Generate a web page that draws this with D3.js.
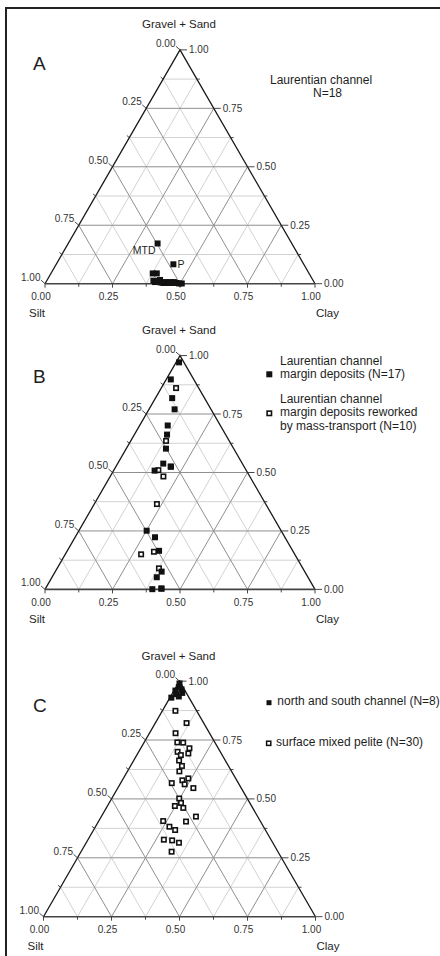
<!DOCTYPE html>
<html>
<head>
<meta charset="utf-8">
<script src="https://cdn.jsdelivr.net/npm/d3@7"></script>
<style>
  body { margin: 0; background: #fff; }
  svg text { font-family: "Liberation Sans", Arial, sans-serif; fill: #1e1e1e; }
</style>
</head>
<body>
<div id="chart"></div>
<script>
// axis ticks (fractions) along each side of the triangle
const tickValues = [0, 0.25, 0.5, 0.75, 1];
const minorTicks = [0.125, 0.375, 0.625, 0.875];
const gridValues = [0.125, 0.25, 0.375, 0.5, 0.625, 0.75, 0.875];

// A - Laurentian channel, N=18 (percent)
const aGravelSand = [17.2, 8.3, 4.4, 4.4, 1.3, 1.2, 1.6, 0.3, 0.7, 0.3, 0.3, 0.7, 0.3, 0.1, 0.1, 0.7, 0.5, 0.7];
const aSilt       = [49.7, 48.3, 57.9, 56.4, 59.2, 57.7, 56.6, 56.0, 55.0, 54.2, 52.8, 51.9, 51.1, 50.3, 49.3, 58.9, 56.8, 53.4];
const aClay       = [33.1, 43.4, 37.7, 39.2, 39.5, 41.1, 41.8, 43.7, 44.3, 45.5, 46.9, 47.4, 48.6, 49.6, 50.6, 40.4, 42.7, 45.9];
const aLabels     = ['MTD', 'P'];

// B - margin deposits, N=17
const bMarginGS   = [97.1, 89.8, 81.8, 77.0, 70.1, 66.2, 60.2, 53.8, 52.5, 50.8, 25.1, 22.3, 16.5, 7.6, 5.2, 0.1, 0.3];
const bMarginSilt = [1.8, 8.5, 12.0, 13.5, 19.5, 21.7, 25.1, 29.3, 27.1, 34.0, 49.8, 48.1, 49.5, 53.0, 56.0, 60.2, 56.7];
const bMarginClay = [1.1, 1.7, 6.2, 9.5, 10.4, 12.1, 14.7, 16.9, 20.4, 15.2, 25.1, 29.6, 34.0, 39.4, 38.8, 39.7, 43.0];

// B - margin deposits reworked by mass-transport, N=10
const bReworkGS   = [86.1, 63.5, 51.0, 48.3, 36.5, 15.0, 16.1, 9.0, 0.4, 52.5];
const bReworkSilt = [8.4, 23.4, 32.5, 32.0, 40.3, 56.9, 51.6, 53.3, 56.7, 27.2];
const bReworkClay = [5.5, 13.1, 16.5, 19.7, 23.2, 28.1, 32.3, 37.7, 42.9, 20.3];

// C - north and south channel, N=8
const cChannelGS   = [99.0, 97.5, 96.5, 96.0, 95.0, 94.5, 93.5, 93.0];
const cChannelSilt = [0.5, 1.5, 1.0, 3.5, 1.5, 4.0, 3.5, 6.5];
const cChannelClay = [0.5, 1.0, 2.5, 0.5, 3.5, 1.5, 3.0, 0.5];

// C - surface mixed pelite, N=30
const cPeliteGS   = [87.4, 82.2, 77.9, 74.0, 73.9, 71.5, 69.3, 70.0, 68.6, 66.3, 64.0, 61.7, 56.7, 57.9, 58.7,
                     56.2, 54.6, 50.2, 48.3, 47.0, 46.2, 42.5, 40.6, 40.4, 38.2, 36.8, 32.7, 32.4, 31.4, 27.6];
const cPeliteSilt = [7.8, 6.3, 12.5, 13.8, 11.7, 10.6, 12.1, 15.7, 15.2, 17.0, 17.1, 19.2, 24.5, 20.0, 17.4,
                     20.0, 17.6, 25.0, 25.3, 28.2, 25.5, 22.7, 35.7, 27.4, 34.6, 33.2, 39.4, 36.5, 34.5, 39.1];
const cPeliteClay = [4.8, 11.5, 9.6, 12.2, 14.4, 17.9, 18.6, 14.3, 16.2, 16.7, 18.9, 19.1, 18.8, 22.1, 23.9,
                     23.8, 27.8, 24.8, 26.4, 24.8, 28.3, 34.8, 23.7, 32.2, 27.2, 30.0, 27.9, 31.1, 34.1, 33.3];

const rows = (gs, silt, clay) => gs.map((v, i) => {
  const s = v + silt[i] + clay[i];
  return { gs: v / s, silt: silt[i] / s, clay: clay[i] / s };
});

const svg = d3.select('#chart').append('svg')
  .attr('width', 440)
  .attr('height', 956);

// outer frame
svg.append('rect')
  .attr('x', 6).attr('y', 8)
  .attr('width', 460).attr('height', 980)
  .attr('fill', 'none')
  .attr('stroke', '#222')
  .attr('stroke-width', 2);

const fmt = d3.format('.2f');

function drawPanel(p) {
  const h = p.side * Math.sqrt(3) / 2;
  const x = d3.scaleLinear().domain([0, 1]).range([p.x0, p.x0 + p.side]);
  const y = d3.scaleLinear().domain([0, 1]).range([p.baseY, p.baseY - h]);
  const pt = (gs, clay) => [x(clay + gs / 2), y(gs)];
  const line = d3.line();
  const g = svg.append('g');

  // grid, light lines first then the quarter lines
  const gridLines = [];
  gridValues.forEach(t => {
    const major = t % 0.25 === 0;
    gridLines.push({ major, pts: [pt(t, 0), pt(t, 1 - t)] });
    gridLines.push({ major, pts: [pt(0, t), pt(1 - t, t)] });
    gridLines.push({ major, pts: [pt(0, 1 - t), pt(1 - t, 0)] });
  });
  g.selectAll('.grid')
    .data(gridLines.sort((a, b) => a.major - b.major))
    .enter()
    .append('path')
    .attr('d', d => line(d.pts))
    .attr('fill', 'none')
    .attr('stroke', d => d.major ? '#8f8f8f' : '#d2d2d2')
    .attr('stroke-width', 1);

  // triangle edges
  g.append('path')
    .attr('d', line([pt(0, 0), pt(1, 0), pt(0, 1)]))
    .attr('fill', 'none')
    .attr('stroke', '#1a1a1a')
    .attr('stroke-width', 1.3);
  g.append('path')
    .attr('d', line([pt(0, 0), pt(0, 1)]))
    .attr('stroke', '#444')
    .attr('stroke-width', 1.6);

  const tickG = g.append('g')
    .attr('stroke', '#333')
    .attr('stroke-width', 0.9);
  const labelG = g.append('g')
    .style('font-size', '10px');

  // left side: silt
  tickValues.forEach(t => {
    const [px, py] = pt(1 - t, 0);
    tickG.append('line').attr('x1', px).attr('y1', py).attr('x2', px - 4).attr('y2', py - 3.5);
    labelG.append('text').attr('x', px - 4.5).attr('y', py - 3)
      .attr('text-anchor', 'end').style('fill', '#333').text(fmt(t));
  });
  minorTicks.forEach(t => {
    const [px, py] = pt(1 - t, 0);
    tickG.append('line').attr('x1', px).attr('y1', py).attr('x2', px - 2.5).attr('y2', py - 2);
  });

  // bottom: clay
  tickValues.forEach(t => {
    const [px, py] = pt(0, t);
    tickG.append('line').attr('x1', px).attr('y1', py).attr('x2', px).attr('y2', py + 4);
    labelG.append('text').attr('x', px - 4).attr('y', py + 16.5)
      .attr('text-anchor', 'middle').style('fill', '#333').text(fmt(t));
  });
  minorTicks.forEach(t => {
    const [px, py] = pt(0, t);
    tickG.append('line').attr('x1', px).attr('y1', py).attr('x2', px).attr('y2', py + 3);
  });

  // right side: gravel + sand
  tickValues.forEach(t => {
    const [px, py] = pt(t, 1 - t);
    tickG.append('line').attr('x1', px).attr('y1', py).attr('x2', px + 7).attr('y2', py);
    labelG.append('text').attr('x', px + 9).attr('y', py + 3.5)
      .attr('text-anchor', 'start').style('fill', '#333').text(fmt(t));
  });
  minorTicks.forEach(t => {
    const [px, py] = pt(t, 1 - t);
    tickG.append('line').attr('x1', px).attr('y1', py).attr('x2', px + 3).attr('y2', py);
  });

  // corner titles
  const [ax, ay] = pt(1, 0);
  g.append('text').attr('x', ax - 1).attr('y', ay - 21.5)
    .attr('text-anchor', 'middle').style('font-size', '11.5px').text('Gravel + Sand');
  g.append('text').attr('x', p.x0 - 16).attr('y', p.baseY + 33.5)
    .style('font-size', '11.5px').text('Silt');
  g.append('text').attr('x', p.x0 + p.side + 1).attr('y', p.baseY + 33.5)
    .style('font-size', '11.5px').text('Clay');
  g.append('text').attr('x', 33).attr('y', p.letterY)
    .style('font-size', '19px').text(p.letter);

  // samples
  p.series.forEach(s => {
    const pos = d => pt(d.gs, d.clay);
    const sz = s.open ? 4.4 : 6;
    g.selectAll(null)
      .data(s.data)
      .enter()
      .append('rect')
      .attr('x', d => pos(d)[0] - sz / 2)
      .attr('y', d => pos(d)[1] - sz / 2)
      .attr('width', sz)
      .attr('height', sz)
      .attr('fill', s.open ? '#fff' : '#111')
      .attr('stroke', s.open ? '#111' : 'none')
      .attr('stroke-width', 1.6);
  });

  return { g, pt };
}

// A
const aRows = rows(aGravelSand, aSilt, aClay);
const panelA = drawPanel({
  x0: 45, side: 270, baseY: 283.7, letter: 'A', letterY: 70,
  series: [{ data: aRows, open: false }]
});
aLabels.forEach((label, i) => {
  const [px, py] = panelA.pt(aRows[i].gs, aRows[i].clay);
  const mtd = i === 0;
  panelA.g.append('text')
    .attr('x', mtd ? px - 2 : px + 4)
    .attr('y', mtd ? py + 11 : py + 4)
    .attr('text-anchor', mtd ? 'end' : 'start')
    .style('font-size', '10.5px')
    .text(label);
});
panelA.g.append('text').attr('x', 270).attr('y', 83.5).style('font-size', '12px').text('Laurentian channel');
panelA.g.append('text').attr('x', 313).attr('y', 96.5).style('font-size', '12px').text('N=18');

// B
const panelB = drawPanel({
  x0: 45, side: 270, baseY: 589.4, letter: 'B', letterY: 382.7,
  series: [
    { data: rows(bReworkGS, bReworkSilt, bReworkClay), open: true },
    { data: rows(bMarginGS, bMarginSilt, bMarginClay), open: false }
  ]
});
const legB = panelB.g.append('g').style('font-size', '12px');
legB.append('rect').attr('x', 266.3).attr('y', 371.3).attr('width', 6).attr('height', 6).attr('fill', '#111');
legB.append('text').attr('x', 280).attr('y', 365).text('Laurentian channel');
legB.append('text').attr('x', 280).attr('y', 378.3).text('margin deposits (N=17)');
legB.append('rect').attr('x', 267.1).attr('y', 411.1).attr('width', 4.4).attr('height', 4.4)
  .attr('fill', '#fff').attr('stroke', '#111').attr('stroke-width', 1.6);
legB.append('text').attr('x', 280).attr('y', 403).text('Laurentian channel');
legB.append('text').attr('x', 280).attr('y', 416.3).text('margin deposits reworked');
legB.append('text').attr('x', 280).attr('y', 429.7).text('by mass-transport (N=10)');

// C
const panelC = drawPanel({
  x0: 43.5, side: 272, baseY: 916.7, letter: 'C', letterY: 711.7,
  series: [
    { data: rows(cPeliteGS, cPeliteSilt, cPeliteClay), open: true },
    { data: rows(cChannelGS, cChannelSilt, cChannelClay), open: false }
  ]
});
const legC = panelC.g.append('g').style('font-size', '12px');
legC.append('rect').attr('x', 266.5).attr('y', 700.2).attr('width', 5).attr('height', 5).attr('fill', '#111');
legC.append('text').attr('x', 277.3).attr('y', 705.3).text('north and south channel (N=8)');
legC.append('rect').attr('x', 266.6).attr('y', 741.2).attr('width', 4.2).attr('height', 4.2)
  .attr('fill', '#fff').attr('stroke', '#111').attr('stroke-width', 1.5);
legC.append('text').attr('x', 276).attr('y', 746.3).text('surface mixed pelite (N=30)');
</script>
</body>
</html>
